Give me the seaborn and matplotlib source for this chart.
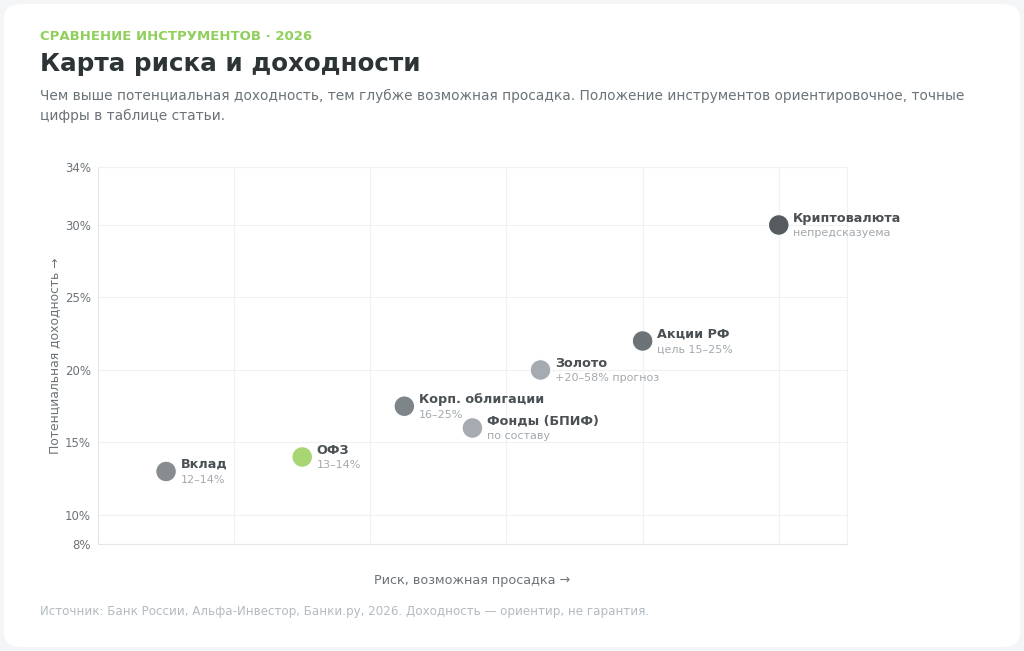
import pandas as pd
import seaborn as sns
from matplotlib import pyplot as plt
from matplotlib.patches import FancyBboxPatch

# data
names = ["Вклад", "ОФЗ", "Корп. облигации", "Фонды (БПИФ)", "Золото", "Акции РФ", "Криптовалюта"]
notes = ["12–14%", "13–14%", "16–25%", "по составу", "+20–58% прогноз", "цель 15–25%", "непредсказуема"]
risk = [0.5, 1.5, 2.25, 2.75, 3.25, 4.0, 5.0]
ret = [13, 14, 17.5, 16, 20, 22, 30]
colors = ["#868c90", "#a8d672", "#7e8589", "#a5abb0", "#a5abb0", "#6c7377", "#555b5f"]
y_ticks = [8, 10, 15, 20, 25, 30, 34]
x_grid = [1, 2, 3, 4, 5]

df = pd.DataFrame({"name": names, "note": notes, "risk": risk, "ret": ret})

sns.set_theme(style="white")
plt.rcParams['font.family'] = ['DejaVu Sans']

fig = plt.figure(figsize=(10.24, 6.51), dpi=100)
fig.patch.set_facecolor("#f4f5f6")
card = FancyBboxPatch((0.004, 0.006), 0.992, 0.988, boxstyle="round,pad=0,rounding_size=0.02",
                      transform=fig.transFigure, facecolor="white", edgecolor="none", zorder=-10)
fig.patches.append(card)

ax = fig.add_axes([0.0957, 0.1644, 0.7313, 0.5791])
ax.set_facecolor("white")

sns.scatterplot(data=df, x="risk", y="ret", hue="name", palette=dict(zip(names, colors)),
                s=220, edgecolor="white", linewidth=0.8, legend=False, ax=ax, zorder=3)

for _, r in df.iterrows():
    ax.annotate(r["name"], (r["risk"], r["ret"]), xytext=(10.5, 5), textcoords="offset points",
                ha="left", va="center", fontsize=9.2, fontweight="bold", color="#4a5053")
    ax.annotate(r["note"], (r["risk"], r["ret"]), xytext=(10.5, -6), textcoords="offset points",
                ha="left", va="center", fontsize=8, color="#a3a9ae")

ax.set_xlim(0, 5.5)
ax.set_ylim(8, 34)
ax.set_xticks(x_grid)
ax.set_xticklabels([])
ax.tick_params(axis="x", length=0)
ax.set_yticks(y_ticks)
ax.set_yticklabels([f"{v}%" for v in y_ticks])
ax.tick_params(axis="y", length=0, labelsize=8.5, labelcolor="#6b7378", pad=5)
ax.grid(True, color="#eef0f1", linewidth=0.8)
ax.set_axisbelow(True)
for side in ["top", "right"]:
    ax.spines[side].set_color("#f0f1f2")
for side in ["left", "bottom"]:
    ax.spines[side].set_color("#e3e6e8")
for sp in ax.spines.values():
    sp.set_linewidth(0.8)

ax.set_xlabel("Риск, возможная просадка →", fontsize=9.2, color="#6b7378", labelpad=18)
ax.set_ylabel("Потенциальная доходность →", fontsize=8.9, color="#6b7378", labelpad=3)

fig.text(40 / 1024, 1 - 37 / 651, "СРАВНЕНИЕ ИНСТРУМЕНТОВ · 2026", fontsize=9.5, fontweight="bold",
         color="#8fcf5a", va="center", ha="left")
fig.text(40 / 1024, 1 - 64 / 651, "Карта риска и доходности", fontsize=17.7, fontweight="bold",
         color="#2d3436", va="center", ha="left")
fig.text(40 / 1024, 1 - 96 / 651,
         "Чем выше потенциальная доходность, тем глубже возможная просадка. Положение инструментов ориентировочное, точные",
         fontsize=9.9, color="#6b7378", va="center", ha="left")
fig.text(40 / 1024, 1 - 116 / 651, "цифры в таблице статьи.",
         fontsize=9.9, color="#6b7378", va="center", ha="left")
fig.text(40 / 1024, 1 - 612 / 651,
         "Источник: Банк России, Альфа-Инвестор, Банки.ру, 2026. Доходность — ориентир, не гарантия.",
         fontsize=8.55, color="#b3bbc0", va="center", ha="left")

fig.savefig("out.png", dpi=100, facecolor=fig.get_facecolor())
